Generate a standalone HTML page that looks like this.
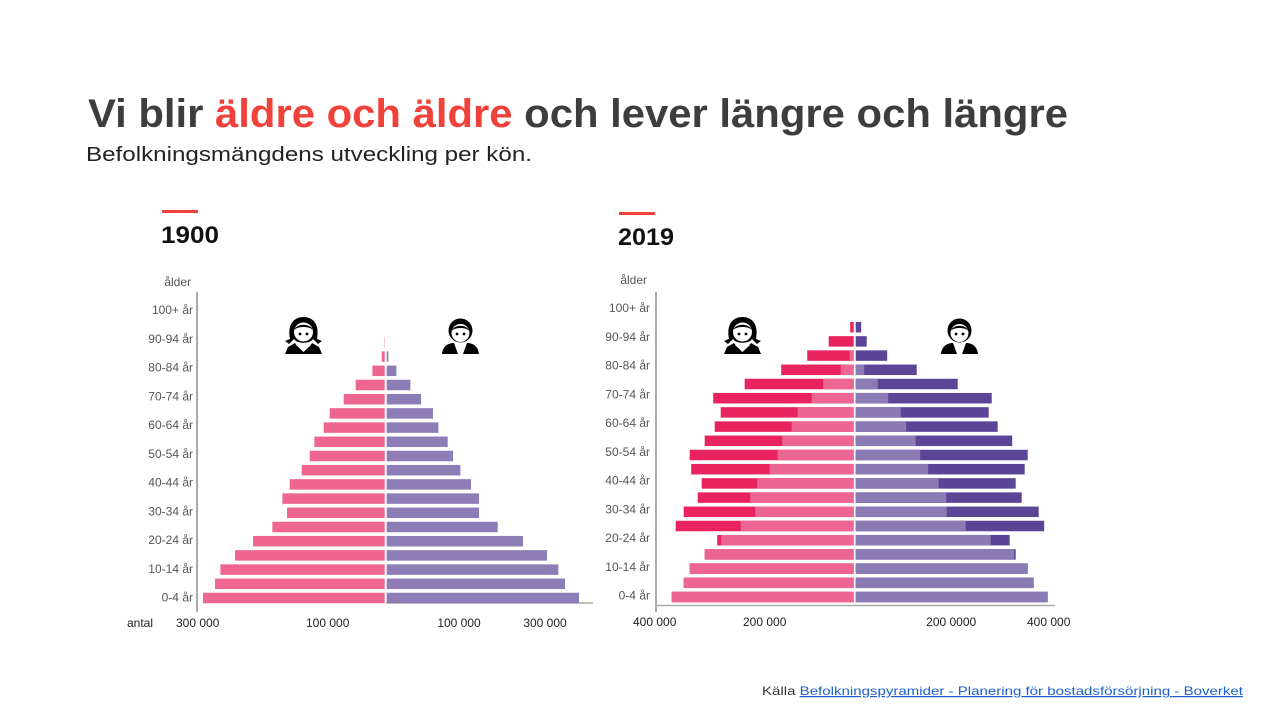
<!DOCTYPE html>
<html><head><meta charset="utf-8"><style>
html,body{margin:0;padding:0;background:#fff;width:1280px;height:720px;overflow:hidden}
svg{display:block}
text{font-family:"Liberation Sans",sans-serif}
</style></head><body>
<svg id="s" width="1280" height="720" viewBox="0 0 1280 720">
<text x="88" y="127" font-size="40" font-weight="bold" fill="#3d3d3d" textLength="980" lengthAdjust="spacingAndGlyphs">Vi blir <tspan fill="#f0413a">äldre och äldre</tspan> och lever längre och längre</text>
<text x="86" y="161" font-size="20" fill="#222" textLength="446" lengthAdjust="spacingAndGlyphs">Befolkningsmängdens  utveckling per kön.</text>
<rect x="162" y="210" width="36" height="3" fill="#f0413a"/>
<text x="161" y="243" font-size="24" font-weight="bold" fill="#111" textLength="58" lengthAdjust="spacingAndGlyphs">1900</text>
<rect x="619" y="212" width="36" height="3" fill="#f0413a"/>
<text x="618" y="245" font-size="24" font-weight="bold" fill="#111" textLength="56" lengthAdjust="spacingAndGlyphs">2019</text>
<text x="762" y="695" font-size="12" fill="#333" textLength="481" lengthAdjust="spacingAndGlyphs">Källa <tspan fill="#1a5fd0" text-decoration="underline">Befolkningspyramider  - Planering för bostadsförsörjning  - Boverket</tspan></text>
<g id="c1"></g>
<g id="c2"></g>
</svg>
<script>
// Age groups, bottom to top
const ages = ["0-4 år","5-9 år","10-14 år","15-19 år","20-24 år","25-29 år","30-34 år","35-39 år","40-44 år","45-49 år","50-54 år","55-59 år","60-64 år","65-69 år","70-74 år","75-79 år","80-84 år","85-89 år","90-94 år","95-99 år","100+ år"];
// 1900 (thousands)
const women1900 = [274,256,248,226,199,170,148,155,144,126,114,107,93,84,63,45,20,6,2,0,0];
const men1900 = [290,269,259,242,206,168,140,140,128,112,101,93,79,71,53,37,16,4,0,0,0];
// 2019 totals and lighter (inner) portion (thousands)
const women2019 = [366,342,330,300,275,358,342,314,306,327,330,300,280,268,283,220,147,95,52,9,0];
const women2019Inner = [366,342,330,300,267,228,199,209,195,170,154,145,126,114,86,63,28,10,0,0,0];
const men2019 = [386,358,346,322,310,379,368,334,322,340,346,315,286,268,274,206,124,65,24,13,0];
const men2019Inner = [386,358,346,319,272,222,184,183,168,147,131,122,103,92,67,46,19,0,0,0,0];
// Tick labels
const ticks1900Left = [282,87], ticks1900LeftLabels = ["300 000","100 000"];
const ticks1900Right = [110,239], ticks1900RightLabels = ["100 000","300 000"];
const ticks2019Left = [400,180], ticks2019LeftLabels = ["400 000","200 000"];
const ticks2019Right = [193,388], ticks2019RightLabels = ["200 0000","400 000"];

const NS="http://www.w3.org/2000/svg";
function mk(parent,tag,attrs,txt){const e=document.createElementNS(NS,tag);for(const k in attrs)e.setAttribute(k,attrs[k]);if(txt!=null)e.textContent=txt;parent.appendChild(e);return e;}

function icon(g,x,y,female){
  const w=mk(g,'g',{transform:`translate(${x},${y})`});
  
  
  if(female){
    mk(w,'path',{d:'M5 22 C2 6 10 0 18.5 0 C27 0 35 6 32 22 L37 24 L33 27 L28 22 C25 27 12 27 9 22 L4 27 L0 24 Z',fill:'#000'});
    mk(w,'circle',{cx:18.5,cy:15,r:9.5,fill:'#fff'});
    mk(w,'path',{d:'M9 13 C12 6 25 6 28 13 C24 9 13 9 9 13Z',fill:'#000'});
    mk(w,'path',{d:'M0 37 L3 30 L10 26 C13 32 24 32 27 26 L34 30 L37 37 Z',fill:'#000'});
    mk(w,'path',{d:'M11 28 L18.5 35 L26 28 Z',fill:'#fff'});
  } else {
    mk(w,'circle',{cx:18.5,cy:13.5,r:12,fill:'#000'});
    mk(w,'circle',{cx:18.5,cy:16,r:9,fill:'#fff'});
    mk(w,'path',{d:'M9.5 14 C12 7 25 7 27.5 14 C24 10 13 10 9.5 14Z',fill:'#000'});
    mk(w,'path',{d:'M0 37 C1 29 6 26 12 26 L16 37 L21 37 L25 26 C31 26 36 29 37 37 Z',fill:'#000'});
  }
  mk(w,'circle',{cx:15,cy:17,r:1.4,fill:'#000'});
  mk(w,'circle',{cx:22,cy:17,r:1.4,fill:'#000'});
}

function pyramid(g,cfg){
  const cx=cfg.cx, k=cfg.k;
  const y=i=>cfg.y0 - i*cfg.step;
  const ly=i=>cfg.ly0 - i*cfg.lstep;
  const xL=v=>cx - v*k, xR=v=>cx + v*k;
  const ax=mk(g,'line',{x1:cfg.axisX,y1:cfg.axTop,x2:cfg.axisX,y2:cfg.axBot,stroke:'#aaa','stroke-width':2});
   
  const bx=mk(g,'line',{x1:cfg.baseX1,y1:cfg.baseY,x2:cfg.baseX2,y2:cfg.baseY,stroke:'#aaa','stroke-width':1.5});
   
  const at=mk(g,'text',{x:cfg.alderX,y:cfg.alderY,'font-size':12,fill:'#555','text-anchor':'end'},'ålder');
   
  ages.forEach((a,i)=>{
    const h=10.5;
    if(cfg.w[i]>0){
      const r=mk(g,'rect',{x:xL(cfg.w[i]),y:y(i)-h/2,width:cfg.w[i]*k-1,height:h,fill:cfg.wDark});
      
      
    }
    if(cfg.wi && cfg.wi[i]>0){
      const r=mk(g,'rect',{x:xL(cfg.wi[i]),y:y(i)-h/2,width:cfg.wi[i]*k-1,height:h,fill:cfg.wLight});
      
      
    }
    if(cfg.m[i]>0){
      const r=mk(g,'rect',{x:cx+1,y:y(i)-h/2,width:cfg.m[i]*k-1,height:h,fill:cfg.mDark});
      
      
    }
    if(cfg.mi && cfg.mi[i]>0){
      const r=mk(g,'rect',{x:cx+1,y:y(i)-h/2,width:cfg.mi[i]*k-1,height:h,fill:cfg.mLight});
      
      
    }
    if(i%2===0){
      const t=mk(g,'text',{x:cfg.labelX,y:ly(i)+4,'font-size':12,fill:'#555','text-anchor':'end'},a);
      
      
    }
  });
  cfg.tl.forEach((v,i)=>{const t=mk(g,'text',{x:xL(v),y:cfg.tickY,'font-size':12,fill:'#222','text-anchor':'middle'},cfg.tlL[i]);
     });
  cfg.tr.forEach((v,i)=>{const t=mk(g,'text',{x:xR(v),y:cfg.tickY,'font-size':12,fill:'#222','text-anchor':'middle'},cfg.trL[i]);
     });
}

const g1=document.getElementById('c1'), g2=document.getElementById('c2');
pyramid(g1,{cx:385.7,k:2/3,y0:598,step:14.2,ly0:597.7,lstep:14.38,axisX:197,axTop:292,axBot:612,baseX1:386,baseX2:593,baseY:603,alderX:191,alderY:286,labelX:193,tickY:627,
  w:women1900,m:men1900,wDark:'#ee6590',mDark:'#8c7db6',tl:ticks1900Left,tlL:ticks1900LeftLabels,tr:ticks1900Right,trL:ticks1900RightLabels});
const an=mk(g1,'text',{x:127,y:627,'font-size':12,fill:'#222'},'antal');
 
pyramid(g2,{cx:854.7,k:0.5,y0:597,step:14.2,ly0:595.7,lstep:14.38,axisX:656,axTop:292,axBot:612,baseX1:655,baseX2:1055,baseY:605.5,alderX:647,alderY:284,labelX:650,tickY:626,
  w:women2019,wi:women2019Inner,m:men2019,mi:men2019Inner,wDark:'#e8235f',wLight:'#ed6592',mDark:'#5b4597',mLight:'#8b7bb5',
  tl:ticks2019Left,tlL:ticks2019LeftLabels,tr:ticks2019Right,trL:ticks2019RightLabels});
icon(g1,285,317,true); icon(g1,442,317,false);
icon(g2,724,317,true); icon(g2,941,317,false);
</script>
</body></html>
